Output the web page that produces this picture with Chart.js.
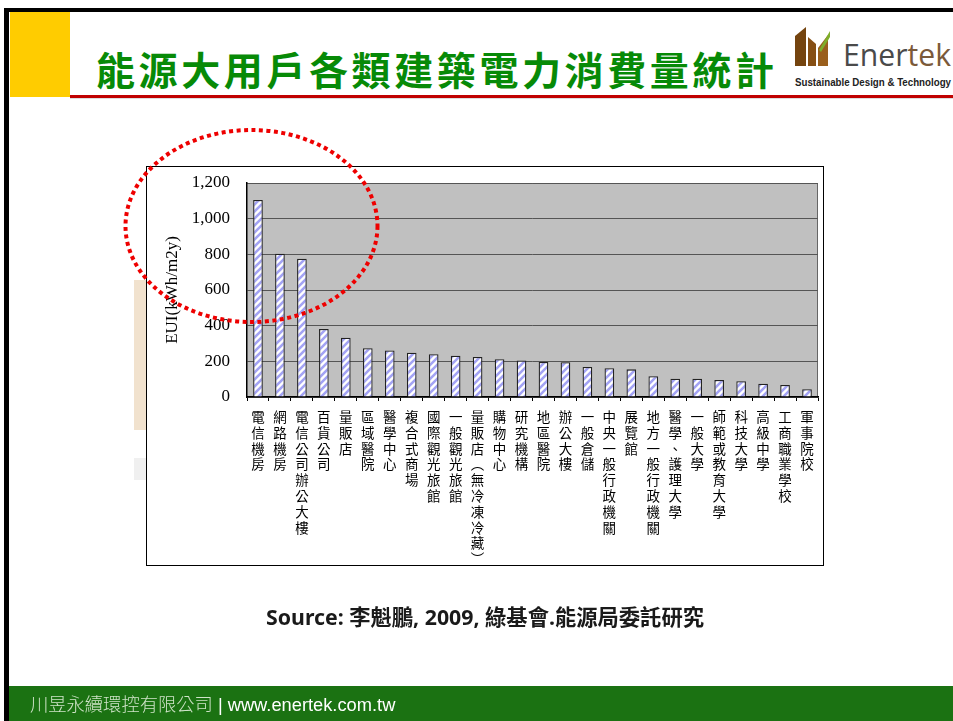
<!DOCTYPE html>
<html>
<head>
<meta charset="utf-8">
<script src="https://cdn.jsdelivr.net/npm/chart.js@4.4.1/dist/chart.umd.min.js"></script>
<style>
  html, body { margin: 0; padding: 0; background: #fff; }
  body { width: 953px; height: 721px; position: relative; overflow: hidden; font-family: "Noto Sans", "Noto Sans CJK TC", sans-serif; }
  .abs { position: absolute; }
</style>
</head>
<body>
<!-- slide frame -->
<div class="abs" style="left:4px; top:8px; width:949px; height:4px; background:#000;"></div>
<div class="abs" style="left:4px; top:8px; width:5px; height:713px; background:#000;"></div>
<div class="abs" style="left:10px; top:12px; width:60px; height:85px; background:#ffcc00;"></div>
<div class="abs" style="left:70px; top:95px; width:883px; height:3px; background:#c00000;"></div>
<div class="abs" style="left:70px; top:98px; width:883px; height:1px; background:#ddd;"></div>

<div class="abs" style="left:96px; top:40px; font-family:'Noto Sans CJK TC'; font-weight:700; font-size:39px; letter-spacing:3.6px; color:#078a07; white-space:nowrap;">能源大用戶各類建築電力消費量統計</div>

<!-- logo -->
<svg class="abs" style="left:790px; top:22px;" width="163" height="70">
  <polygon points="5,14 16,5 16,44 5,44" fill="#74440f"/>
  <polygon points="18,15 26,22 26,44 18,44" fill="#864f14"/>
  <polygon points="28,26 38,13 38,44 28,44" fill="#9a5f1c"/>
  <polygon points="29,28 40,9 40,15 31,30" fill="#7fae2a"/>
  <text x="53" y="44" font-family="Open Sans" font-size="31" textLength="108" lengthAdjust="spacingAndGlyphs"><tspan fill="#4a4a4a">Ener</tspan><tspan fill="#7b5a3a">tek</tspan></text>
  <text x="5" y="64" font-family="Liberation Sans Narrow, Liberation Sans" font-weight="700" font-size="10" fill="#222" textLength="156" lengthAdjust="spacingAndGlyphs">Sustainable Design &amp; Technology</text>
</svg>

<!-- background fragments behind chart -->
<div class="abs" style="left:134px; top:280px; width:14px; height:150px; background:#f1e2ce;"></div>
<div class="abs" style="left:134px; top:458px; width:14px; height:22px; background:#f0f0f0;"></div>

<div class="abs" style="left:146px; top:166px; width:678px; height:400px; background:#fff;">
  <canvas id="c"></canvas>
</div>
<div class="abs" style="left:146px; top:166px; width:678px; height:400px; box-sizing:border-box; border:1px solid #000; pointer-events:none;"></div>

<svg class="abs" style="left:0; top:0; pointer-events:none;" width="953" height="721">
  <ellipse cx="251.5" cy="226" rx="126" ry="96" fill="none" stroke="#ee0000" stroke-width="4" stroke-dasharray="4 3.5"/>
</svg>

<div class="abs" style="left:0; top:600px; width:970px; text-align:center; font-family:'Noto Sans','Noto Sans CJK TC'; font-weight:700; font-size:21.3px; color:#1a1a1a; white-space:nowrap;">Source: 李魁鵬, 2009, 綠基會.能源局委託研究</div>

<!-- footer -->
<div class="abs" style="left:9px; top:686px; width:944px; height:35px; background:#1b7212;"></div>
<div class="abs" style="left:30px; top:690px; font-size:18.3px; white-space:nowrap; color:#fff;"><span style="font-family:'Noto Sans CJK TC'; font-weight:300; color:#cfe3c8;">川昱永續環控有限公司</span><span style="font-family:'Liberation Sans';"> | www.enertek.com.tw</span></div>

<script>
const buildingTypes = [
  "電信機房", "網路機房", "電信公司辦公大樓", "百貨公司", "量販店", "區域醫院", "醫學中心",
  "複合式商場", "國際觀光旅館", "一般觀光旅館", "量販店︵無冷凍冷藏︶", "購物中心", "研究機構",
  "地區醫院", "辦公大樓", "一般倉儲", "中央一般行政機關", "展覽館", "地方一般行政機關",
  "醫學、護理大學", "一般大學", "師範或教育大學", "科技大學", "高級中學", "工商職業學校", "軍事院校"
];
const euiValues = [
  1105, 803, 775, 382, 332, 274, 261,
  248, 240, 232, 225, 212, 205,
  196, 195, 168, 161, 155, 117,
  102, 102, 95, 88, 74, 67, 44
];
const yTicks = [0, 200, 400, 600, 800, 1000, 1200];

// vertical labels: one character per line
const verticalLabels = buildingTypes.map(s => Array.from(s));

function stripePattern() {
  const t = document.createElement("canvas");
  t.width = 7; t.height = 7;
  const g = t.getContext("2d");
  g.fillStyle = "#ffffff";
  g.fillRect(0, 0, 7, 7);
  g.strokeStyle = "#a3a3f4";
  g.lineWidth = 2.6;
  g.beginPath();
  g.moveTo(-1, 8); g.lineTo(8, -1);
  g.moveTo(-4.5, 4.5); g.lineTo(4.5, -4.5);
  g.moveTo(2.5, 11.5); g.lineTo(11.5, 2.5);
  g.stroke();
  return g.createPattern(t, "repeat");
}

const plotBg = {
  id: "plotBg",
  beforeDraw(chart) {
    const { ctx, chartArea: a } = chart;
    ctx.save();
    ctx.fillStyle = "#c0c0c0";
    ctx.fillRect(a.left, a.top, a.right - a.left, a.bottom - a.top);
    ctx.strokeStyle = "#666";
    ctx.lineWidth = 1;
    ctx.beginPath();
    ctx.moveTo(a.left, a.top + 0.5);
    ctx.lineTo(a.right - 0.5, a.top + 0.5);
    ctx.lineTo(a.right - 0.5, a.bottom);
    ctx.stroke();
    ctx.restore();
  }
};

new Chart(document.getElementById("c"), {
  type: "bar",
  data: {
    labels: verticalLabels,
    datasets: [{
      data: euiValues,
      backgroundColor: stripePattern(),
      borderColor: "#222",
      borderWidth: 1.3,
      barPercentage: 0.44,
      categoryPercentage: 1
    }]
  },
  options: {
    responsive: true,
    maintainAspectRatio: false,
    animation: false,
    layout: { padding: { top: 17, right: 6, left: 0, bottom: 0 } },
    plugins: { legend: { display: false }, tooltip: { enabled: false } },
    scales: {
      x: {
        afterFit(scale) { scale.height = 169; },
        grid: { offset: true, drawOnChartArea: false, drawTicks: true, tickLength: 4, color: "#000" },
        border: { color: "#000", width: 1.5 },
        ticks: {
          autoSkip: false, maxRotation: 0, minRotation: 0, padding: 8,
          color: "#000",
          font: { family: "Noto Sans CJK TC", size: 13.5, lineHeight: 1.17 }
        }
      },
      y: {
        min: 0, max: 1200,
        afterFit(scale) { scale.width = 101; },
        afterBuildTicks(scale) { scale.ticks = yTicks.map(v => ({ value: v })); },
        grid: { color: "#555", lineWidth: 1, drawTicks: true, tickLength: 17, tickColor: "rgba(0,0,0,0)" },
        border: { color: "#000", width: 1.5 },
        ticks: {
          padding: 0, color: "#000",
          font: { family: "Liberation Serif", size: 17, lineHeight: 1 }
        },
        title: {
          display: true, text: "EUI(kWh/m2y)", color: "#000",
          font: { family: "Liberation Serif", size: 17 },
          padding: { top: 16, bottom: 0 }
        }
      }
    }
  },
  plugins: [plotBg]
});
</script>
</body>
</html>
